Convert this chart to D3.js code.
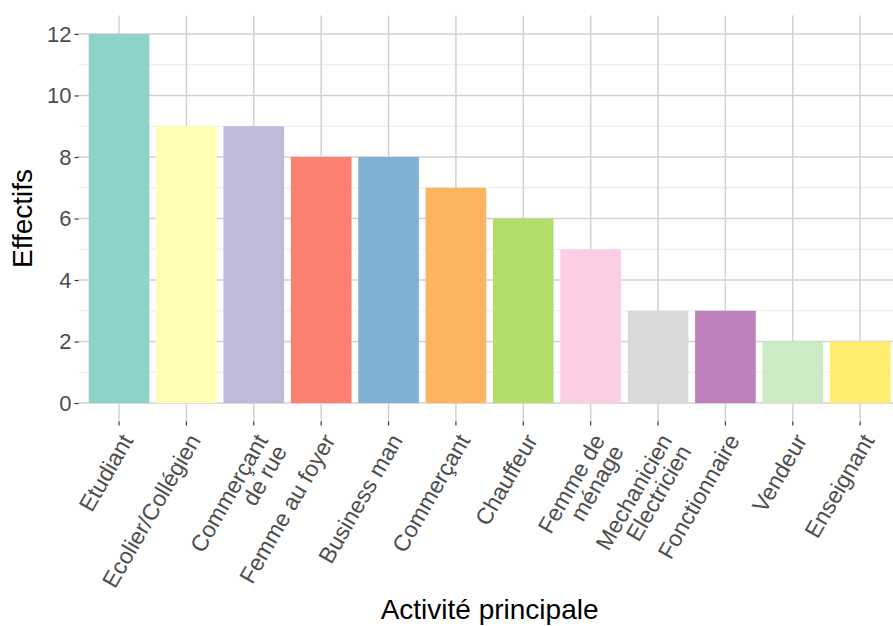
<!DOCTYPE html>
<html><head><meta charset="utf-8">
<script src="https://cdn.jsdelivr.net/npm/d3@7"></script>
<style>body{margin:0;background:#fff}svg{display:block}</style>
</head><body>
<svg id="chart" width="893" height="626"></svg>
<script>
const categories = ["Etudiant","Ecolier/Collégien","Commerçant\nde rue","Femme au foyer","Business man","Commerçant","Chauffeur","Femme de\nménage","Mechanicien\nElectricien","Fonctionnaire","Vendeur","Enseignant"];
const values = [12, 9, 9, 8, 8, 7, 6, 5, 3, 3, 2, 2];
const colors = ["#8DD3C7","#FFFFB3","#BEBADA","#FB8072","#80B1D3","#FDB462","#B3DE69","#FCCDE5","#D9D9D9","#BC80BD","#CCEBC5","#FFED6F"];
const yTicks = [0, 2, 4, 6, 8, 10, 12];
const yMinor = [1, 3, 5, 7, 9, 11];
const xTitle = "Activité principale";
const yTitle = "Effectifs";

const FONT = "Liberation Sans, Arial, sans-serif";
const svg = d3.select("#chart");
const panel = {left: 78.6, right: 900.6, top: 15.5, bottom: 421.5};

const x = d3.scaleBand().domain(categories).range([panel.left, panel.right])
  .paddingInner(0.1).paddingOuter(0.15);
const y = d3.scaleLinear().domain([-0.6, 12.6]).range([panel.bottom, panel.top]);

const g = svg.append("g");
g.selectAll(".ymin").data(yMinor).join("line")
  .attr("x1", panel.left).attr("x2", panel.right)
  .attr("y1", d => y(d)).attr("y2", d => y(d))
  .attr("stroke", "#ebebeb").attr("stroke-width", 1);
g.selectAll(".ymaj").data(yTicks).join("line")
  .attr("x1", panel.left).attr("x2", panel.right)
  .attr("y1", d => y(d)).attr("y2", d => y(d))
  .attr("stroke", "#d2d2d2").attr("stroke-width", 1.5);
g.selectAll(".xmaj").data(categories).join("line")
  .attr("x1", d => x(d) + x.bandwidth()/2).attr("x2", d => x(d) + x.bandwidth()/2)
  .attr("y1", panel.top).attr("y2", panel.bottom)
  .attr("stroke", "#d2d2d2").attr("stroke-width", 1.5);

g.selectAll(".bar").data(values).join("rect")
  .attr("x", (d, i) => x(categories[i]))
  .attr("width", x.bandwidth())
  .attr("y", d => y(d))
  .attr("height", d => y(0) - y(d))
  .attr("fill", (d, i) => colors[i]);

const yAxis = svg.append("g").attr("transform", `translate(${panel.left},0)`)
  .call(d3.axisLeft(y).tickValues(yTicks).tickSize(4).tickPadding(3));
yAxis.select(".domain").remove();
yAxis.selectAll(".tick line").attr("stroke", "#333").attr("stroke-width", 1.2);
yAxis.selectAll(".tick text").attr("fill", "#4d4d4d")
  .style("font-family", FONT).style("font-size", "22px");

const xAxis = svg.append("g").attr("transform", `translate(0,${panel.bottom})`)
  .call(d3.axisBottom(x).tickSize(4).tickFormat(""));
xAxis.select(".domain").remove();
xAxis.selectAll(".tick line").attr("stroke", "#333").attr("stroke-width", 1.2);

const lab = svg.append("g");
categories.forEach(c => {
  const cx = x(c) + x.bandwidth()/2;
  const lines = c.split("\n");
  const t = lab.append("text")
    .attr("transform", `translate(${cx},${panel.bottom + 10}) rotate(-60)`)
    .attr("text-anchor", "end")
    .attr("fill", "#4d4d4d")
    .style("font-family", FONT).style("font-size", "23px");
  lines.forEach((l, i) => {
    t.append("tspan").attr("x", 0).attr("dy", i === 0 ? "0.75em" : "0.95em").text(l);
  });
});

svg.append("text").attr("x", (panel.left + panel.right)/2).attr("y", 619)
  .attr("text-anchor", "middle").attr("fill", "#000")
  .style("font-family", FONT).style("font-size", "28px")
  .text(xTitle);
svg.append("text").attr("transform", `translate(32,${(panel.top + panel.bottom)/2}) rotate(-90)`)
  .attr("text-anchor", "middle").attr("fill", "#000")
  .style("font-family", FONT).style("font-size", "28px")
  .text(yTitle);
</script>
</body></html>
